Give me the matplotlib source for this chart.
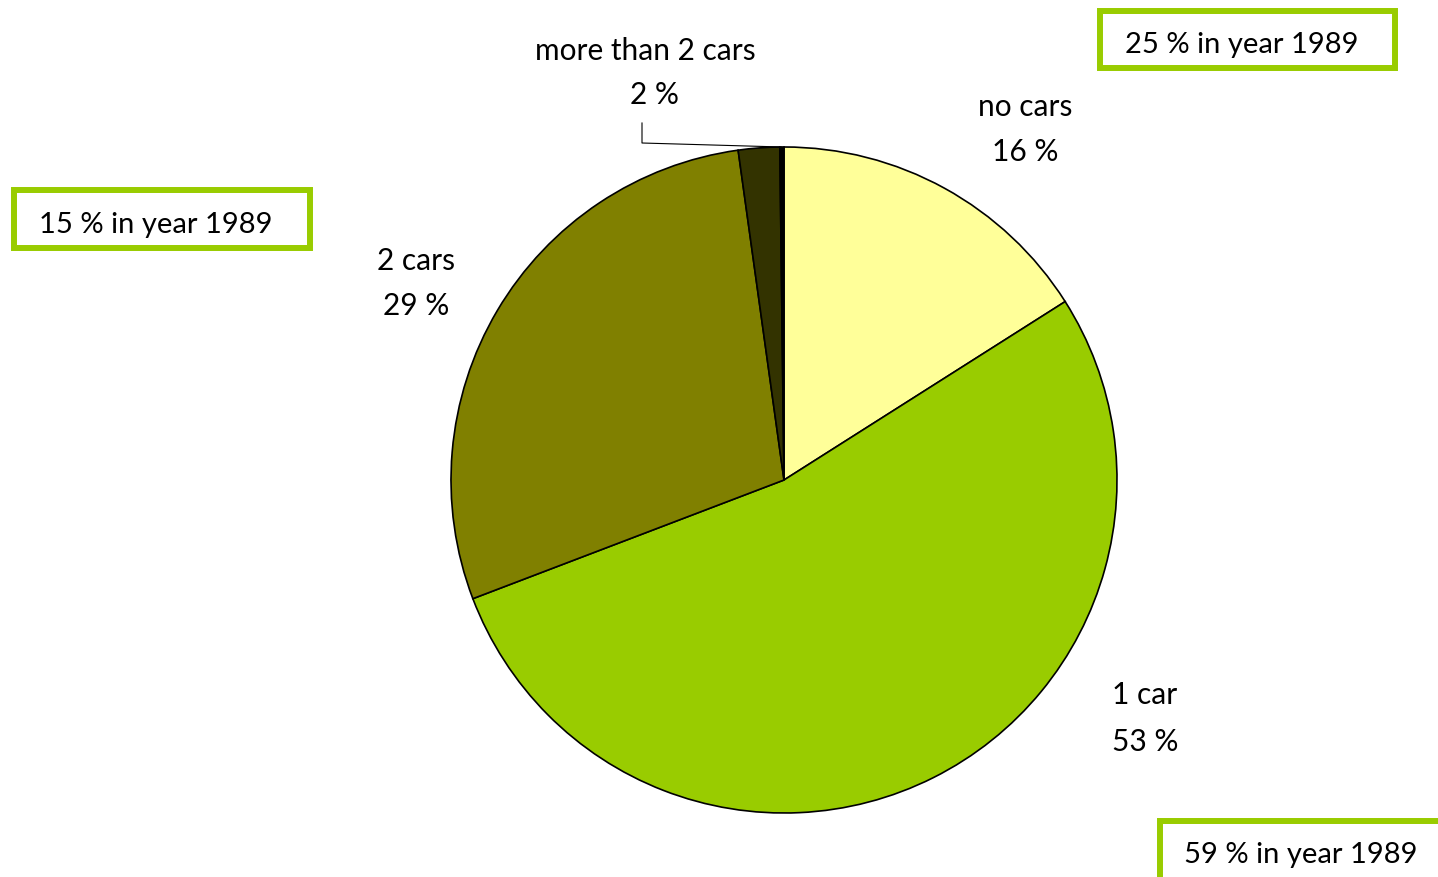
import matplotlib
matplotlib.use("Agg")
import matplotlib.pyplot as plt
from matplotlib.patches import Rectangle

W, H = 1438, 877

categories = ["no cars", "1 car", "2 cars", "more than 2 cars", ""]
values = [16.0, 53.2, 28.6, 2.0, 0.2]
pct_labels = ["16 %", "53 %", "29 %", "2 %", ""]
colors = ["#FFFF99", "#99CC00", "#808000", "#333300", "#000000"]
notes_1989 = ["25 % in year 1989", "15 % in year 1989", "59 % in year 1989"]

plt.rcParams['font.family'] = ['Lato', 'DejaVu Sans']
FS = 21.5
FS_BOX = 21.0

fig = plt.figure(figsize=(W / 100, H / 100), dpi=100)
ax = fig.add_axes([0, 0, 1, 1])
ax.set_xlim(0, W)
ax.set_ylim(0, H)
ax.set_aspect('equal')
ax.axis('off')


def Y(py):
    return H - py


cx, cy, r = 784, 480, 333
ax.pie(values, colors=colors, startangle=90, counterclock=False,
       center=(cx, Y(cy)), radius=r,
       wedgeprops=dict(edgecolor='black', linewidth=1.2))
ax.set_xlim(0, W)
ax.set_ylim(0, H)

# data labels (two lines each)
label_pos = [
    (1025, 107, 152),
    (1145, 695, 742),
    (416, 261, 306),
    (645, 51, 95),
]
for i, (lx, y1, y2) in enumerate(label_pos):
    ax.text(lx, Y(y1), categories[i], ha='center', va='center', fontsize=FS, color='black')
    x2 = lx if i != 3 else 654
    ax.text(x2, Y(y2), pct_labels[i], ha='center', va='center', fontsize=FS, color='black')

# leader line for the small slice
ax.plot([642, 642, 782], [Y(123), Y(143), Y(147)], color='black', linewidth=0.8)

# 1989 boxes
boxes = [
    ((1100, 11, 1395, 68), (1125, 45)),
    ((14, 190, 310, 248), (39, 225)),
    ((1160, 821, 1470, 900), (1184, 855)),
]
for (x0, y0, x1, y1), (tx, ty) in boxes:
    rect = Rectangle((x0, Y(y1)), x1 - x0, y1 - y0, facecolor='white',
                     edgecolor='#99CC00', linewidth=4.3, clip_on=True)
    ax.add_patch(rect)
for (box, (tx, ty)), note in zip(boxes, notes_1989):
    ax.text(tx, Y(ty), note, ha='left', va='center', fontsize=FS_BOX, color='black')

fig.savefig("out.png", dpi=100, facecolor='white')
